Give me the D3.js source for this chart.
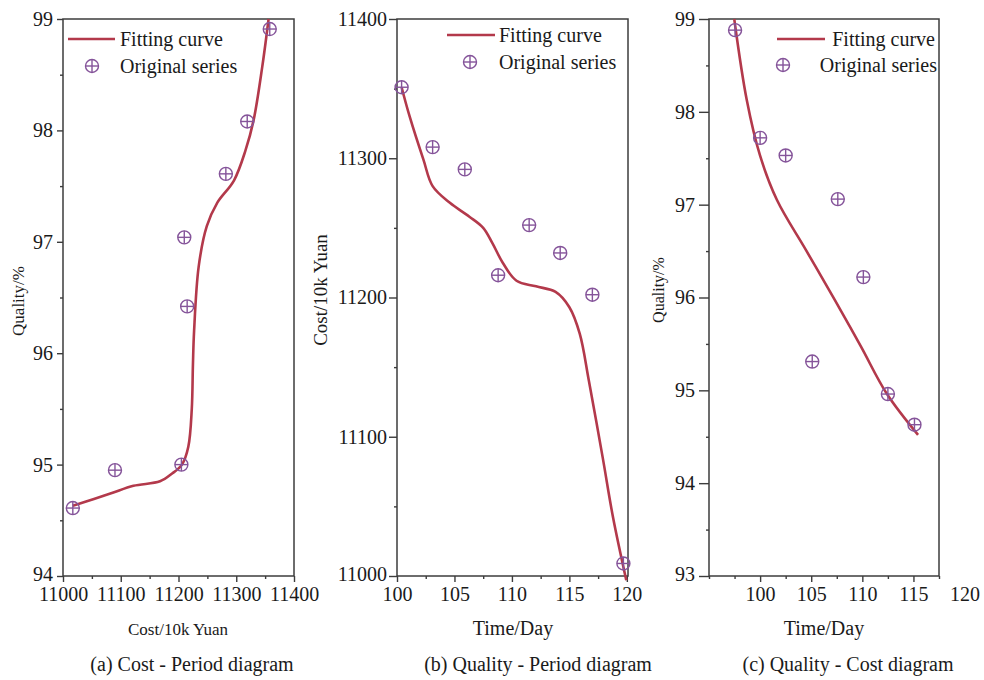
<!DOCTYPE html>
<meta charset="utf-8">
<style>
body { margin: 0; background: #fff; }
svg { background: #fff; }
svg text { font-family: "Liberation Serif", "Times New Roman", serif; fill: #1a1a1a; }
.frame { fill: none; stroke: #3c3c3c; stroke-width: 1.5; }
.tick line { stroke: #3c3c3c; stroke-width: 1.4; }
.fit { fill: none; stroke: #b3394b; stroke-width: 2.6; }
.pt circle { fill: none; stroke: #85549a; stroke-width: 1.4; }
.pt line { stroke: #85549a; stroke-width: 1.4; }
</style>
<svg width="984" height="680"></svg>
<script src="https://d3js.org/d3.v7.min.js"></script>
<script>
// (a) quality vs cost
var costA = [11017, 11090, 11205, 11215, 11210, 11282, 11319, 11358];
var qualityA = [94.61, 94.95, 95.00, 96.42, 97.04, 97.61, 98.08, 98.91];
var fitCostA = [11017, 11082, 11122, 11168, 11189, 11206, 11217, 11223, 11225, 11227, 11235, 11249, 11267, 11296, 11316, 11330, 11345, 11356];
var fitQualityA = [94.63, 94.74, 94.81, 94.85, 94.92, 95.00, 95.16, 95.50, 95.90, 96.20, 96.78, 97.14, 97.35, 97.55, 97.82, 98.09, 98.57, 99.00];

// (b) cost vs time
var timeB = [100.4, 103.1, 105.9, 108.8, 111.5, 114.2, 117.0, 119.7];
var costB = [11351, 11308, 11292, 11216, 11252, 11232, 11202, 11009];
var fitTimeB = [100.4, 101.1, 102.3, 103.1, 104.6, 106.3, 107.5, 108.3, 109.2, 110.4, 112.1, 113.8, 115.0, 115.9, 116.7, 117.9, 118.8, 119.95];
var fitCostB = [11351, 11330, 11299, 11280, 11268, 11258, 11250, 11239, 11225, 11212, 11208, 11204, 11193, 11174, 11140, 11085, 11042, 10997];

// (c) quality vs time
var timeC = [97.55, 100.0, 102.5, 105.1, 107.6, 110.1, 112.5, 115.1];
var qualityC = [98.88, 97.72, 97.53, 95.31, 97.06, 96.22, 94.96, 94.63];
var fitTimeC = [97.47, 98.69, 99.99, 101.65, 104.49, 107.33, 109.87, 112.41, 115.45];
var fitQualityC = [99.0, 98.13, 97.53, 97.05, 96.51, 95.97, 95.47, 94.96, 94.52];

var legendLabels = ["Fitting curve", "Original series"];
var captions = ["(a) Cost - Period diagram", "(b) Quality - Period diagram", "(c) Quality - Cost diagram"];

var svg = d3.select("svg");

var panels = [
  { left: 63, right: 294, top: 19, bottom: 576,
    xDomain: [11000, 11400], yDomain: [94, 99],
    xMajor: d3.range(11000, 11401, 100), xMinor: d3.range(11050, 11400, 100),
    yMajor: d3.range(94, 99.01, 1), yMinor: d3.range(94.5, 99, 1),
    tick: 6, ypad: 4,
    xs: costA, ys: qualityA, fx: fitCostA, fy: fitQualityA,
    xTitle: "Cost/10k Yuan", xTitleSize: 17, xTitleX: 178,
    yTitle: "Quality/%", yTitleSize: 17, yTitleX: 24, yTitleY: 301,
    legLine: [68, 115, 39], legMark: [92, 66], legText: [[120, 39, "start"], [120, 66, "start"]],
    caption: captions[0], capX: 192 },
  { left: 397, right: 628, top: 19, bottom: 576,
    xDomain: [100, 120.1], yDomain: [11000, 11400],
    xMajor: d3.range(100, 121, 5), xMinor: d3.range(102.5, 120, 5),
    yMajor: d3.range(11000, 11401, 100), yMinor: d3.range(11050, 11400, 100),
    tick: 8, ypad: 2,
    xs: timeB, ys: costB, fx: fitTimeB, fy: fitCostB,
    xTitle: "Time/Day", xTitleSize: 20, xTitleX: 513,
    yTitle: "Cost/10k Yuan", yTitleSize: 19, yTitleX: 327, yTitleY: 290,
    legLine: [447, 495, 35], legMark: [470, 62], legText: [[499, 35, "start"], [499, 62, "start"]],
    caption: captions[1], capX: 538 },
  { left: 709, right: 939, top: 19, bottom: 576,
    xDomain: [95, 117.5], yDomain: [93, 99],
    xMajor: d3.range(100, 121, 5), xMinor: d3.range(95, 118, 2.5).filter(function(v) { return v % 5 !== 0 || v === 95; }),
    yMajor: d3.range(93, 99.01, 1), yMinor: d3.range(93.5, 99, 1),
    tick: 10, ypad: 4,
    xs: timeC, ys: qualityC, fx: fitTimeC, fy: fitQualityC,
    xTitle: "Time/Day", xTitleSize: 20, xTitleX: 824,
    yTitle: "Quality/%", yTitleSize: 16, yTitleX: 664, yTitleY: 290,
    legLine: [777, 825, 39], legMark: [783, 65], legText: [[935, 39, "end"], [937, 65, "end"]],
    caption: captions[2], capX: 848 }
];

function marker(sel, cx, cy) {
  var m = sel.append("g").attr("class", "pt").attr("transform", "translate(" + cx + "," + cy + ")");
  m.append("circle").attr("r", 6.5);
  m.append("line").attr("x1", -6.5).attr("x2", 6.5);
  m.append("line").attr("y1", -6.5).attr("y2", 6.5);
}

function styleAxis(g, size) {
  g.attr("font-family", null).attr("font-size", null);
  g.select(".domain").remove();
  g.selectAll("text").style("font-size", size + "px");
}

panels.forEach(function(p) {
  var g = svg.append("g");
  var x = d3.scaleLinear().domain(p.xDomain).range([p.left, p.right]);
  var y = d3.scaleLinear().domain(p.yDomain).range([p.bottom, p.top]);

  // minor ticks
  g.append("g").attr("transform", "translate(0," + p.bottom + ")")
    .call(d3.axisBottom(x).tickValues(p.xMinor).tickSize(3).tickFormat(""))
    .call(styleAxis, 20);
  g.append("g").attr("transform", "translate(" + p.left + ",0)")
    .call(d3.axisLeft(y).tickValues(p.yMinor).tickSize(3).tickFormat(""))
    .call(styleAxis, 20);

  // major ticks
  var xa = g.append("g").attr("transform", "translate(0," + p.bottom + ")")
    .call(d3.axisBottom(x).tickValues(p.xMajor).tickSize(6).tickPadding(5).tickFormat(d3.format("d")))
    .call(styleAxis, 20);
  xa.selectAll(".tick").filter(function(d) { return d > p.xDomain[1]; }).select("line").remove();
  var ya = g.append("g").attr("transform", "translate(" + p.left + ",0)")
    .call(d3.axisLeft(y).tickValues(p.yMajor).tickSize(p.tick).tickPadding(p.ypad).tickFormat(d3.format("d")))
    .call(styleAxis, 20);
  // lift the bottom y label a little so it clears the first x label
  ya.selectAll(".tick").filter(function(d) { return d === p.yDomain[0]; }).select("text").attr("dy", "0.2em");

  g.append("rect").attr("class", "frame")
    .attr("x", p.left).attr("y", p.top)
    .attr("width", p.right - p.left).attr("height", p.bottom - p.top);

  // fitted curve
  var line = d3.line()
    .x(function(d) { return x(d[0]); })
    .y(function(d) { return y(d[1]); })
    .curve(d3.curveCatmullRom.alpha(0.5));
  g.append("path").attr("class", "fit").attr("d", line(d3.zip(p.fx, p.fy)));

  // original points
  d3.zip(p.xs, p.ys).forEach(function(d) { marker(g, x(d[0]), y(d[1])); });

  // legend
  g.append("line").attr("class", "fit")
    .attr("x1", p.legLine[0]).attr("x2", p.legLine[1])
    .attr("y1", p.legLine[2]).attr("y2", p.legLine[2]);
  marker(g, p.legMark[0], p.legMark[1]);
  legendLabels.forEach(function(t, i) {
    g.append("text").attr("x", p.legText[i][0]).attr("y", p.legText[i][1])
      .attr("dy", "0.35em").attr("text-anchor", p.legText[i][2])
      .style("font-size", "20px").text(t);
  });

  // titles
  g.append("text").attr("x", p.xTitleX).attr("y", 635).attr("text-anchor", "middle")
    .style("font-size", p.xTitleSize + "px").text(p.xTitle);
  g.append("text").attr("transform", "translate(" + p.yTitleX + "," + p.yTitleY + ") rotate(-90)")
    .attr("text-anchor", "middle").style("font-size", p.yTitleSize + "px").text(p.yTitle);
  g.append("text").attr("x", p.capX).attr("y", 671).attr("text-anchor", "middle")
    .style("font-size", "20px").text(p.caption);
});
</script>
